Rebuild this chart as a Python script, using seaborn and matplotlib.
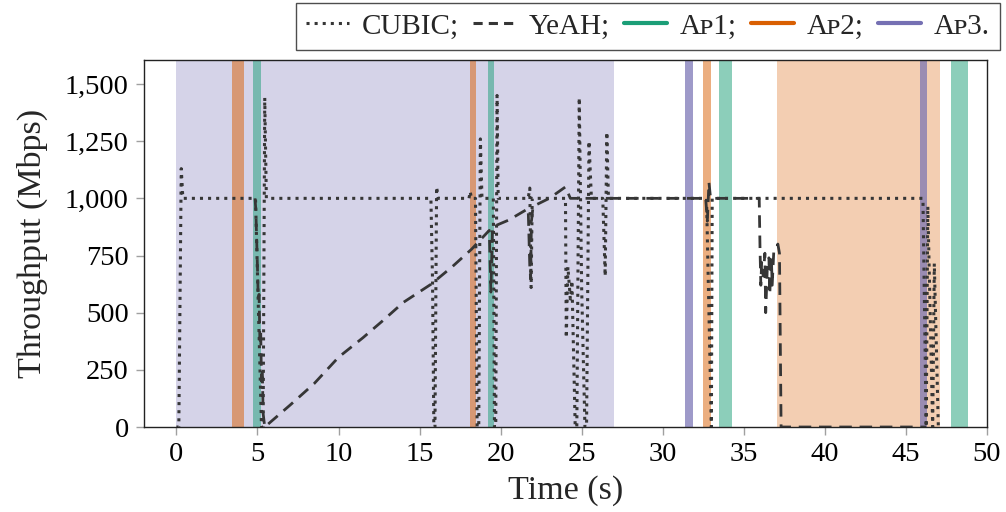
import matplotlib
matplotlib.use("Agg")
import matplotlib.pyplot as plt
from matplotlib.lines import Line2D
from matplotlib.ticker import FuncFormatter
import seaborn as sns
import pandas as pd

# Throughput traces (time in s, throughput in Mbps)
cubic_t = [0.0, 0.15, 0.3, 0.4, 0.5, 4.88, 5.25, 5.35, 5.45, 5.55,
           15.7, 15.8, 15.88, 15.95, 16.05, 16.15,
           18.05, 18.12, 18.2, 18.45, 18.55, 18.65, 18.75, 18.85,
           19.55, 19.62, 19.7, 19.78, 19.85,
           21.7, 21.8, 21.88, 21.95,
           24.0, 24.05, 24.15, 24.3, 24.4, 24.6, 24.7, 24.85, 25.0, 25.2, 25.3, 25.45, 25.6,
           26.3, 26.45, 26.55, 26.65,
           32.7, 33.0, 33.05,
           45.95, 46.05, 46.25, 46.35, 46.65, 46.75, 47.0]
cubic_v = [0, 0, 1130, 1000, 1000, 1000, 0, 0, 1440, 1000,
           1000, 640, 0, 0, 1050, 1000,
           1000, 1030, 1000, 1000, 0, 0, 1260, 1000,
           1000, 0, 0, 1450, 1000,
           1000, 1045, 610, 1000,
           1000, 390, 700, 560, 640, 0, 0, 1440, 600, 0, 0, 1250, 1000,
           1000, 660, 1290, 1000,
           1000, 0, 1000,
           1000, 1000, 0, 965, 0, 715, 0]

yeah_t = [4.85, 4.9, 5.0, 5.05, 5.1, 5.15, 5.2, 5.25, 5.3, 5.35, 5.45,
          7.0, 8.5, 10.0, 11.5, 12.7, 14.0, 15.7, 17.0, 18.2, 19.3, 19.4, 19.5,
          20.5, 21.7, 21.8, 21.85, 21.9, 22.0, 23.0, 24.0, 24.3, 24.4,
          32.65, 32.75, 32.85, 32.95,
          35.9, 35.95, 36.0, 36.05, 36.1, 36.2, 36.3, 36.35, 36.45, 36.55, 36.6,
          36.7, 36.75, 36.85, 37.0, 37.1, 37.2, 37.3, 46.25]
yeah_v = [1000, 950, 700, 560, 580, 380, 420, 200, 250, 60, 0,
          95, 190, 305, 390, 463, 545, 624, 700, 777, 860, 590, 875,
          905, 955, 700, 650, 900, 965, 1000, 1050, 1000, 1000,
          1000, 900, 1070, 1000,
          1000, 1000, 780, 620, 720, 660, 760, 500, 700, 740, 580,
          740, 620, 770, 780, 800, 760, 0, 0]

# Access-point association periods (start, end) in s
ap1_spans = [(4.75, 5.2), (19.2, 19.6), (33.5, 34.25), (47.8, 48.8)]
ap2_spans = [(3.45, 4.2), (18.1, 18.5), (32.5, 32.95), (37.05, 47.1)]
ap3_spans = [(0.0, 27.0), (31.4, 31.85), (45.85, 46.3)]

x_ticks = [0, 5, 10, 15, 20, 25, 30, 35, 40, 45, 50]
y_ticks = [0, 250, 500, 750, 1000, 1250, 1500]

sns.set_style("ticks")
plt.rcParams["font.family"] = ["Liberation Serif", "DejaVu Serif"]

pal = sns.color_palette("Dark2", 3)
ap_colors = {"ap1": pal[0], "ap2": pal[1], "ap3": pal[2]}
# opacity of the short handover windows per access point
band_alpha = {"ap1": 0.5, "ap2": 0.5, "ap3": 0.7}
line_color = "#363636"

fig = plt.figure(figsize=(10.06, 5.12), dpi=100)
ax = fig.add_axes([0.1431, 0.166, 0.8380, 0.7168])

# long association periods are shaded lightly, short handover windows stronger
for key, spans in (("ap3", ap3_spans), ("ap2", ap2_spans), ("ap1", ap1_spans)):
    for s, e in spans:
        if e - s > 2:
            ax.axvspan(s, e, color=ap_colors[key], alpha=0.3, lw=0, zorder=0)
for key, spans in (("ap3", ap3_spans), ("ap2", ap2_spans), ("ap1", ap1_spans)):
    for s, e in spans:
        if e - s <= 2:
            ax.axvspan(s, e, color=ap_colors[key], alpha=band_alpha[key], lw=0, zorder=1)

dotted = (0, (1.0, 1.65))
dashed = (0, (4.5, 2.8))

cubic = pd.DataFrame({"t": cubic_t, "v": cubic_v})
yeah = pd.DataFrame({"t": yeah_t, "v": yeah_v})
sns.lineplot(data=yeah, x="t", y="v", ax=ax, estimator=None, sort=False,
             color=line_color, lw=2.0, linestyle=dashed, zorder=3)
sns.lineplot(data=cubic, x="t", y="v", ax=ax, estimator=None, sort=False,
             color=line_color, lw=2.2, linestyle=dotted, zorder=4)

ax.set_xlim(-2, 50)
ax.set_ylim(0, 1605)
ax.set_xticks(x_ticks)
ax.set_yticks(y_ticks)
ax.yaxis.set_major_formatter(FuncFormatter(lambda v, p: f"{int(v):,}"))
ax.tick_params(axis="both", which="major", direction="out", length=6, width=1,
               color="#a0a0a0", labelsize=20.5, pad=5, labelcolor="black")
for sp in ax.spines.values():
    sp.set_color("#222222")
    sp.set_linewidth(1.0)
ax.set_xlabel("Time (s)", fontsize=24.5, labelpad=6)
ax.set_ylabel("Throughput (Mbps)", fontsize=24.5, labelpad=12)

handles = [
    Line2D([], [], color=line_color, lw=2.2, linestyle=dotted),
    Line2D([], [], color=line_color, lw=2.2, linestyle=(0, (3.0, 2.0))),
    Line2D([], [], color=ap_colors["ap1"], lw=3),
    Line2D([], [], color=ap_colors["ap2"], lw=3),
    Line2D([], [], color=ap_colors["ap3"], lw=3),
]
labels = ["CUBIC;", "YeAH;", "A\u1d181;", "A\u1d182;", "A\u1d183."]
leg = fig.legend(handles, labels, loc="upper right", bbox_to_anchor=(0.994, 0.994),
                 ncol=5, fontsize=21, frameon=True, fancybox=False, edgecolor="#222222",
                 handlelength=1.45, handletextpad=0.45, columnspacing=0.5,
                 borderpad=0.35, borderaxespad=0)
leg.get_frame().set_linewidth(1.0)

fig.savefig("out.png", dpi=100)
